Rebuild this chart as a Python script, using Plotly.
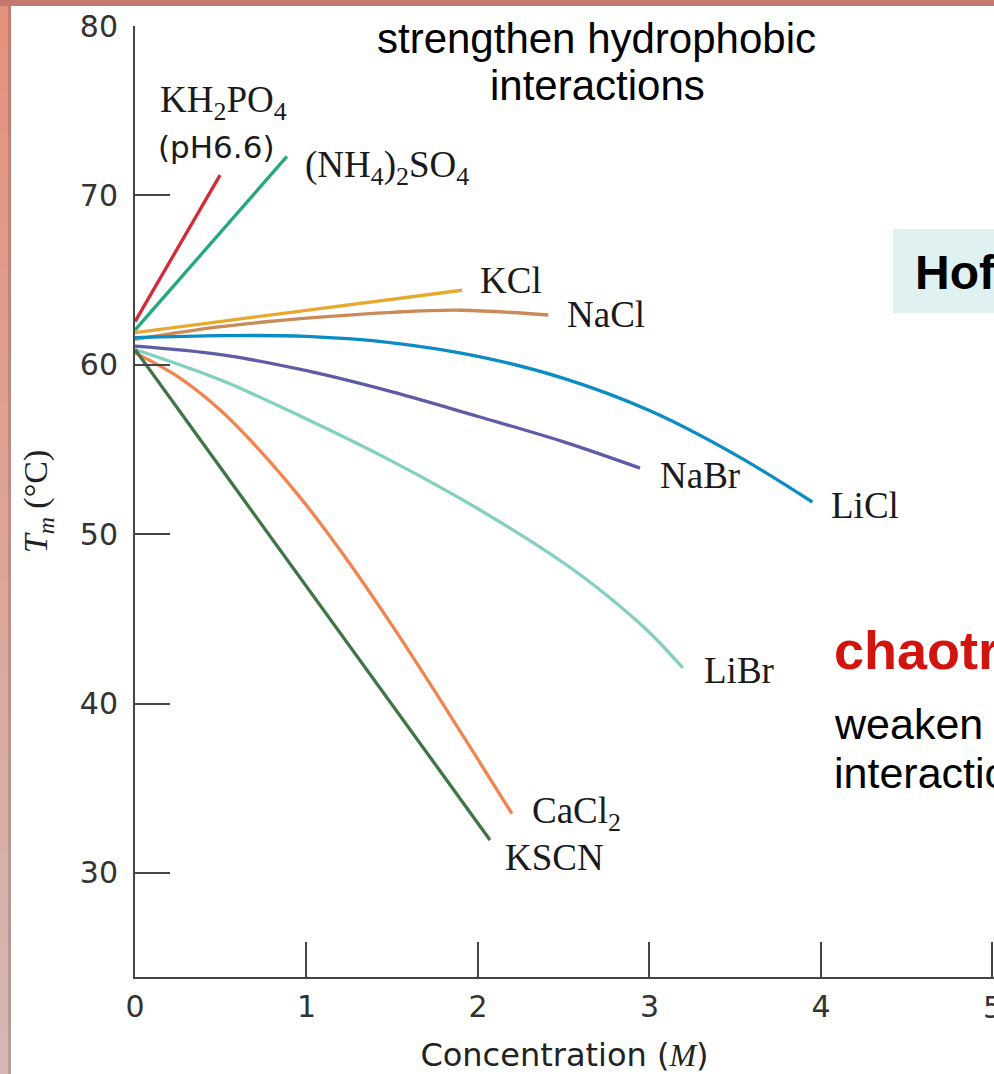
import plotly.graph_objects as go

# ---------------- data ----------------
salt_names = ["KH2PO4", "(NH4)2SO4", "KCl", "NaCl", "LiCl", "NaBr", "LiBr", "CaCl2", "KSCN"]

kh2po4_x = [0, 0.496]
kh2po4_y = [62.55, 71.2]
nh4so4_x = [0, 0.886]
nh4so4_y = [62.05, 72.3]
kcl_x = [0, 1.907]
kcl_y = [61.9, 64.4]
nacl_x = [0, 0.5, 1.0, 1.5, 1.9, 2.41]
nacl_y = [61.5, 62.25, 62.75, 63.1, 63.22, 62.94]
licl_x = [0, 0.5, 1.0, 1.5, 2.0, 2.5, 3.0, 3.5, 3.95]
licl_y = [61.6, 61.72, 61.68, 61.3, 60.5, 59.2, 57.3, 54.7, 51.9]
nabr_x = [0, 0.5, 1.0, 1.5, 2.0, 2.5, 2.945]
nabr_y = [61.1, 60.6, 59.65, 58.4, 56.95, 55.45, 53.9]
libr_x = [0, 0.5, 1.0, 1.5, 2.0, 2.5, 2.75, 3.0, 3.195]
libr_y = [60.9, 59.1, 56.8, 54.3, 51.5, 48.3, 46.4, 44.2, 42.1]
cacl2_x = [0, 0.25, 0.5, 0.75, 1.0, 1.25, 1.5, 1.75, 2.0, 2.198]
cacl2_y = [60.7, 59.3, 57.3, 54.7, 51.7, 48.3, 44.6, 40.7, 36.7, 33.5]
kscn_x = [0, 2.07]
kscn_y = [60.9, 31.95]

x_ticks = [0, 1, 2, 3, 4, 5]
y_ticks = [30, 40, 50, 60, 70, 80]

# ---------------- geometry / style ----------------
W, H = 994, 1074
ML, MR, MT, MB = 135, 0, 26, 97
X_RANGE = [0, 5.009]
Y_RANGE = [23.86, 80]
PW = W - ML - MR
PH = H - MT - MB


def pxx(p):
    return (p - ML) / PW


def pxy(p):
    return (H - MB - p) / PH


def dx(p):
    return X_RANGE[0] + (p - ML) / PW * (X_RANGE[1] - X_RANGE[0])


def dy(p):
    return Y_RANGE[1] - (p - MT) / PH * (Y_RANGE[1] - Y_RANGE[0])


series = [
    (kh2po4_x, kh2po4_y, "#d42a35"),
    (nh4so4_x, nh4so4_y, "#23a97c"),
    (kcl_x, kcl_y, "#e6a92e"),
    (nacl_x, nacl_y, "#c98b58"),
    (licl_x, licl_y, "#0b8cc5"),
    (nabr_x, nabr_y, "#5d5ca7"),
    (libr_x, libr_y, "#84d0c0"),
    (cacl2_x, cacl2_y, "#f1844f"),
    (kscn_x, kscn_y, "#3f7544"),
]

fig = go.Figure()
for (xs, ys, col), nm in zip(series, salt_names):
    fig.add_trace(go.Scatter(
        x=xs, y=ys, mode="lines", name=nm,
        line=dict(color=col, width=3.3, shape="spline", smoothing=1.0),
        hoverinfo="skip", showlegend=False,
    ))

SERIF = "Liberation Serif"
SANS = "DejaVu Sans"
LBL = dict(family=SERIF, size=37, color="#1a1a1a")

labels = [
    ("KH<sub>2</sub>PO<sub>4</sub>", 158, 102),
    ("(NH<sub>4</sub>)<sub>2</sub>SO<sub>4</sub>", 303, 167),
    ("KCl", 478, 280),
    ("NaCl", 565, 314),
    ("NaBr", 658, 475),
    ("LiCl", 829, 505),
    ("LiBr", 702, 670),
    ("CaCl<sub>2</sub>", 530, 813),
    ("KSCN", 503, 857),
]

annotations = []
for txt, px, py in labels:
    annotations.append(dict(
        text=txt, x=dx(px), y=dy(py), xref="x", yref="y",
        xanchor="left", yanchor="middle", showarrow=False, font=LBL,
    ))

annotations.append(dict(
    text="(pH6.6)", x=dx(156), y=dy(147), xref="x", yref="y",
    xanchor="left", yanchor="middle", showarrow=False,
    font=dict(family=SANS, size=31, color="#1a1a1a"),
))

TOPF = dict(family="Liberation Sans", size=42, color="#000000")
annotations.append(dict(text="strengthen hydrophobic", x=dx(596), y=dy(38),
                        xref="x", yref="y", xanchor="center", yanchor="middle",
                        showarrow=False, font=TOPF))
annotations.append(dict(text="interactions", x=dx(597), y=dy(85),
                        xref="x", yref="y", xanchor="center", yanchor="middle",
                        showarrow=False, font=TOPF))

# Hofmeister box text
annotations.append(dict(text="<b>Hofmeister series</b>", x=dx(913), y=dy(272),
                        xref="x", yref="y", xanchor="left", yanchor="middle",
                        showarrow=False,
                        font=dict(family="Liberation Sans", size=48, color="#000000")))

# chaotropes
annotations.append(dict(text="<b>chaotropes</b>", x=dx(832), y=dy(650),
                        xref="x", yref="y", xanchor="left", yanchor="middle",
                        showarrow=False,
                        font=dict(family="Liberation Sans", size=54, color="#d2140f")))

WF = dict(family="Liberation Sans", size=43, color="#000000")
annotations.append(dict(text="weaken hydrophobic", x=dx(832), y=dy(724),
                        xref="x", yref="y", xanchor="left", yanchor="middle",
                        showarrow=False, font=WF))
annotations.append(dict(text="interactions", x=dx(832), y=dy(773),
                        xref="x", yref="y", xanchor="left", yanchor="middle",
                        showarrow=False, font=WF))

TICKF = dict(family=SANS, size=30, color="#333333")
# last x tick label sits on the figure edge (half cut, as in the reference)
annotations.append(dict(text=str(x_ticks[-1]), x=x_ticks[-1], y=pxy(1007),
                        xref="x", yref="paper", xanchor="center", yanchor="middle",
                        showarrow=False, font=TICKF))

shapes = []
# light cyan box behind "Hofmeister"
shapes.append(dict(type="rect", xref="x", yref="y", x0=dx(893), x1=dx(1000),
                   y0=dy(313), y1=dy(229), fillcolor="#dff1f1",
                   line=dict(width=0), layer="below"))

# slide frame (left & top borders)
top_col = (228, 146, 126)
bot_col = (213, 182, 178)
NSEG = 24
for i in range(NSEG):
    t = i / (NSEG - 1)
    c = tuple(int(round(top_col[k] + (bot_col[k] - top_col[k]) * t)) for k in range(3))
    cd = tuple(int(v * 0.86) for v in c)
    y0p = i * H / NSEG
    y1p = (i + 1) * H / NSEG + 1
    shapes.append(dict(type="rect", xref="paper", yref="paper",
                       x0=pxx(0), x1=pxx(8), y0=pxy(y1p), y1=pxy(y0p),
                       fillcolor="rgb(%d,%d,%d)" % c, line=dict(width=0), layer="above"))
    shapes.append(dict(type="rect", xref="paper", yref="paper",
                       x0=pxx(8), x1=pxx(11), y0=pxy(y1p), y1=pxy(y0p),
                       fillcolor="rgb(%d,%d,%d)" % cd, line=dict(width=0), layer="above"))
shapes.append(dict(type="rect", xref="paper", yref="paper",
                   x0=pxx(0), x1=pxx(W + 5), y0=pxy(6), y1=pxy(0),
                   fillcolor="#c47a6c", line=dict(width=0), layer="above"))

AX = "#454545"

fig.update_layout(
    width=W, height=H,
    margin=dict(l=ML, r=MR, t=MT, b=MB, pad=0),
    paper_bgcolor="white", plot_bgcolor="white",
    showlegend=False,
    annotations=annotations,
    shapes=shapes,
)
fig.update_xaxes(
    range=X_RANGE, tickmode="array", tickvals=x_ticks, ticktext=[str(v) for v in x_ticks],
    ticks="inside", ticklen=35, tickwidth=2, tickcolor=AX,
    showline=True, linecolor=AX, linewidth=2, showgrid=False, zeroline=False,
    tickfont=TICKF, ticklabelstandoff=2,
    title=dict(text="Concentration (<span style='font-family:Liberation Serif'><i>M</i></span>)",
               font=dict(family=SANS, size=32, color="#222222"), standoff=22),
)
fig.update_yaxes(
    range=Y_RANGE, tickmode="array", tickvals=y_ticks, ticktext=[str(v) for v in y_ticks],
    ticks="inside", ticklen=35, tickwidth=2, tickcolor=AX,
    showline=True, linecolor=AX, linewidth=2, showgrid=False, zeroline=False,
    tickfont=TICKF, ticklabelstandoff=9,
    title=dict(text="<i>T</i><sub><i>m</i></sub> (°C)",
               font=dict(family=SERIF, size=34, color="#222222"), standoff=22),
)

fig.write_html(
    "out.html",
    config={"displayModeBar": False},
    post_script="document.body.style.margin='0';document.body.style.overflow='hidden';",
)
